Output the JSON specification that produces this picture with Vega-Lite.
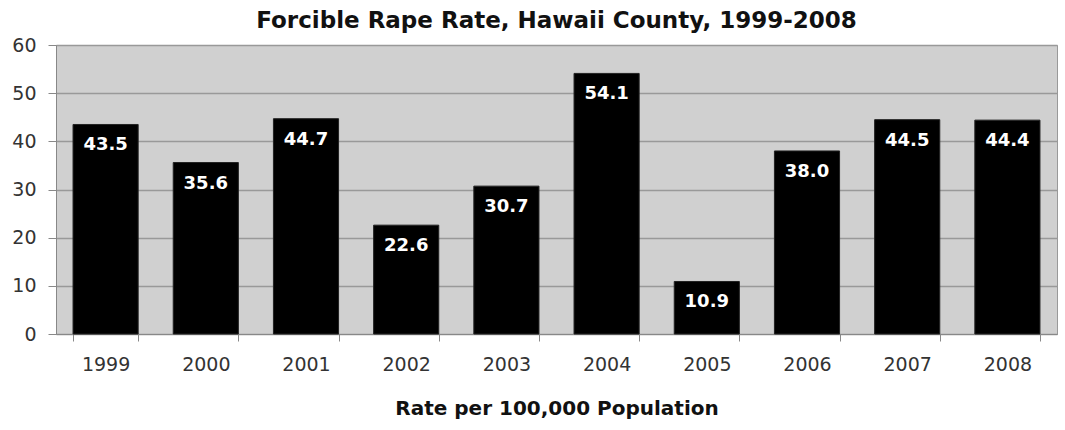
{
  "$schema": "https://vega.github.io/schema/vega-lite/v6.json",
  "autosize": "none",
  "width": 1001,
  "height": 289,
  "padding": {"left": 56, "top": 45, "right": 8, "bottom": 96},
  "background": "white",
  "title": {"text": "Forcible Rape Rate, Hawaii County, 1999-2008", "font": "DejaVu Sans", "fontSize": 23, "fontWeight": "bold", "color": "#111", "anchor": "middle", "offset": 3},
  "config": {"view": {"fill": "#d0d0d0", "stroke": "#999", "strokeWidth": 1}},
  "data": {"values": [
    {"year": "1999", "rate": 43.5},
    {"year": "2000", "rate": 35.6},
    {"year": "2001", "rate": 44.7},
    {"year": "2002", "rate": 22.6},
    {"year": "2003", "rate": 30.7},
    {"year": "2004", "rate": 54.1},
    {"year": "2005", "rate": 10.9},
    {"year": "2006", "rate": 38.0},
    {"year": "2007", "rate": 44.5},
    {"year": "2008", "rate": 44.4}
  ]},
  "encoding": {
    "x": {"field": "year", "type": "ordinal", "scale": {"paddingInner": 0.35, "paddingOuter": 0.17},
      "axis": {"title": "Rate per 100,000 Population", "titleFont": "DejaVu Sans", "titleFontSize": 20, "titleFontWeight": "bold", "titleColor": "#111", "titlePadding": 24,
        "labelFont": "DejaVu Sans", "labelFontSize": 19, "labelColor": "#333", "labelAngle": 0, "labelPadding": 14,
        "domainColor": "#888", "tickColor": "#888", "tickBand": "extent", "tickSize": 7, "grid": false}},
    "y": {"field": "rate", "type": "quantitative", "scale": {"domain": [0, 60]},
      "axis": {"title": null, "values": [0, 10, 20, 30, 40, 50, 60], "labelFont": "DejaVu Sans", "labelFontSize": 19, "labelColor": "#333", "labelPadding": 12,
        "domainColor": "#888", "tickColor": "#888", "tickSize": 8, "gridColor": "#999", "gridWidth": 1.5}}
  },
  "layer": [
    {"mark": {"type": "bar", "color": "#000", "stroke": "#222", "strokeWidth": 1}},
    {"mark": {"type": "text", "color": "white", "font": "DejaVu Sans", "fontSize": 18, "fontWeight": "bold", "baseline": "middle", "dy": 21},
      "encoding": {"text": {"field": "rate", "type": "quantitative", "format": ".1f"}}}
  ]
}
